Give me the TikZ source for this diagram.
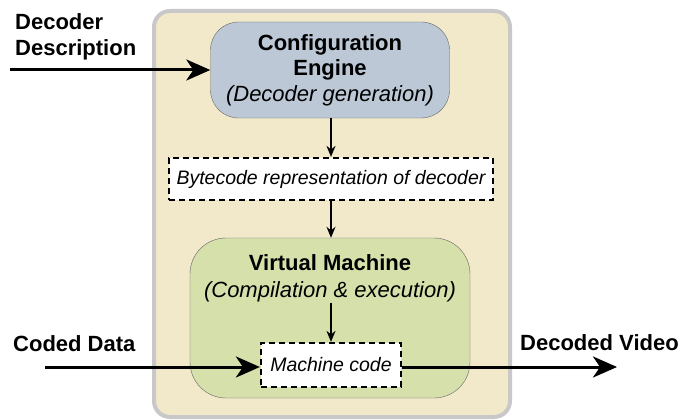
\documentclass[tikz,border=0pt]{standalone}
\usepackage{fontspec}
\setmainfont{Liberation Sans}
\usetikzlibrary{arrows.meta}
\definecolor{beige}{HTML}{F2E9CB}
\definecolor{frame}{HTML}{C8C8C8}
\definecolor{engine}{HTML}{BCC8D6}
\definecolor{vmgreen}{HTML}{D5E0AB}
\tikzset{>={Stealth[length=11pt,width=9pt]}}
\tikzset{
  dashbox/.style={draw, line width=2.2pt, dash pattern=on 6pt off 4pt, fill=white, inner sep=2pt, font=\fontsize{19.5}{22}\selectfont\itshape},
  bigarrow/.style={->, line width=3pt, >={Stealth[length=24pt,width=21pt,inset=7pt]}},
  smallarrow/.style={->, line width=1.6pt},
  lbl/.style={font=\fontsize{22}{26}\selectfont\bfseries, align=left, inner sep=0pt}
}

\begin{document}
\begin{tikzpicture}[x=1pt,y=-1pt]
\useasboundingbox (0,0) rectangle (699,420);
% outer frame
\draw[line width=4pt, draw=frame, fill=beige, rounded corners=16pt] (154,11) rectangle (510,417);

\node[draw=gray!80!black, fill=engine, rounded corners=28pt, minimum width=239pt, minimum height=96pt, align=center, font=\fontsize{22}{25.5}\selectfont] (engine) at (330,70)
  {\textbf{Configuration}\\\textbf{Engine}\\\textit{(Decoder generation)}};
\node[dashbox, minimum width=324pt, minimum height=42pt] (bytecode) at (331,179) {Bytecode representation of decoder};
\node[draw=gray!80!black, fill=vmgreen, rounded corners=36pt, minimum width=280pt, minimum height=160pt] (vm) at (330,318) {};
\node[align=center, font=\fontsize{22}{27}\selectfont, inner sep=1pt] (vmtext) at (330,278)
  {\textbf{Virtual Machine}\\\textit{(Compilation \& execution)}};
\node[dashbox, minimum width=140pt, minimum height=44pt] (mc) at (331,365) {Machine code};

% labels
\node[lbl, anchor=north west] (ddlbl) at (15,13) {Decoder\\Description};
\node[lbl, anchor=west] (cdlbl) at (13,344) {Coded Data};
\node[lbl, anchor=west] (dvlbl) at (520,343) {Decoded Video};

\coordinate (ddin) at (10,70);
\coordinate (cdin) at (45,367);
\coordinate (dvout) at (617,367);

\draw[bigarrow] (ddin) -- (engine.west |- ddin);
\draw[bigarrow] (cdin) -- (mc.west |- cdin);
\draw[bigarrow] (mc.east |- dvout) -- (dvout);
\draw[smallarrow] (engine.south -| bytecode.north) -- (bytecode.north);
\draw[smallarrow] (bytecode.south) -- (vm.north -| bytecode.south);
\draw[smallarrow] (vmtext.south -| mc.north) -- (mc.north);
\end{tikzpicture}
\end{document}
